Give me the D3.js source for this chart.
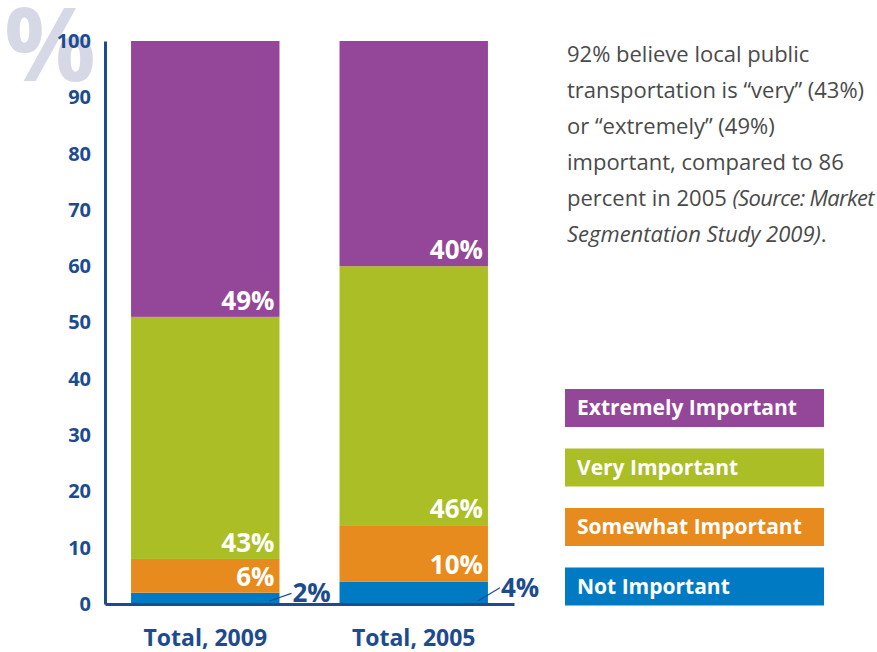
<!DOCTYPE html>
<html>
<head>
<meta charset="utf-8">
<script src="https://cdn.jsdelivr.net/npm/d3@7"></script>
<style>
  body { margin: 0; background: #fff; }
  svg { display: block; font-family: "Open Sans", sans-serif; }
</style>
</head>
<body>
<div id="chart"></div>
<script>
'use strict';

// data
var categories = ["Total, 2009", "Total, 2005"];
var seriesNames = ["Not Important", "Somewhat Important", "Very Important", "Extremely Important"];
var notImportant = [2, 4];
var somewhatImportant = [6, 10];
var veryImportant = [43, 46];
var extremelyImportant = [49, 40];
var yTicks = [0, 10, 20, 30, 40, 50, 60, 70, 80, 90, 100];
var legendOrder = ["Extremely Important", "Very Important", "Somewhat Important", "Not Important"];
var noteLines = [
  [{t: "92% believe local public"}],
  [{t: "transportation is \u201cvery\u201d (43%)"}],
  [{t: "or \u201cextremely\u201d (49%)"}],
  [{t: "important, compared to 86"}],
  [{t: "percent in 2005 "}, {t: "(Source: Market", it: true, tight: true}],
  [{t: "Segmentation Study 2009)", it: true}, {t: "."}]
];

var colors = {
  "Not Important": "#007bc3",
  "Somewhat Important": "#e88b1e",
  "Very Important": "#abbe26",
  "Extremely Important": "#944699"
};
var navy = "#1d4b8f";

var width = 877, height = 652;
var svg = d3.select("#chart").append("svg")
  .attr("width", width).attr("height", height);

// build stack table
var table = categories.map(function(c, i) {
  return {
    cat: c,
    "Not Important": notImportant[i],
    "Somewhat Important": somewhatImportant[i],
    "Very Important": veryImportant[i],
    "Extremely Important": extremelyImportant[i]
  };
});
var stacked = d3.stack().keys(seriesNames)(table);

var x = d3.scaleBand().domain(categories).range([105, 514]).paddingInner(0.288).paddingOuter(0.125);
var y = d3.scaleLinear().domain([0, 100]).range([604, 41]);

// big % mark behind the axis labels
svg.append("text")
  .attr("x", 50).attr("y", 81)
  .attr("text-anchor", "middle")
  .attr("font-size", 102).attr("font-weight", 700)
  .attr("fill", "#d6d8e6")
  .text("%");

// bars
var layer = svg.append("g").selectAll("g")
  .data(stacked)
  .join("g")
  .attr("fill", d => colors[d.key]);

layer.selectAll("rect")
  .data(d => d.map(v => ({key: d.key, v0: v[0], v1: v[1], cat: v.data.cat})))
  .join("rect")
  .attr("x", d => x(d.cat))
  .attr("width", x.bandwidth())
  .attr("y", d => y(d.v1))
  .attr("height", d => y(d.v0) - y(d.v1));

// in-bar labels (white, bottom-right of each segment)
stacked.forEach(function(s) {
  if (s.key === "Not Important") return;
  s.forEach(function(v) {
    svg.append("text")
      .attr("x", x(v.data.cat) + x.bandwidth() - 5)
      .attr("y", y(v[0]) - 7)
      .attr("text-anchor", "end")
      .attr("font-size", 26).attr("font-weight", 700)
      .attr("fill", "#fff")
      .text((v[1] - v[0]) + "%");
  });
});

// outside labels for Not Important with leader lines
stacked[0].forEach(function(v) {
  var bx = x(v.data.cat) + x.bandwidth();
  var ym = y((v[0] + v[1]) / 2);
  svg.append("line")
    .attr("x1", bx - 10).attr("y1", y(0) - 3)
    .attr("x2", bx + 12).attr("y2", ym - 5)
    .attr("stroke", navy).attr("stroke-width", 1.2);
  svg.append("text")
    .attr("x", bx + 13).attr("y", ym + 4)
    .attr("font-size", 26).attr("font-weight", 700)
    .attr("fill", navy)
    .text((v[1] - v[0]) + "%");
});

// axes
var yAxis = svg.append("g")
  .attr("transform", "translate(105,0)")
  .call(d3.axisLeft(y).tickValues(yTicks).tickSize(0).tickPadding(14));
yAxis.select(".domain").attr("stroke", navy).attr("stroke-width", 3);
yAxis.selectAll("text")
  .attr("font-size", 20).attr("font-weight", 700)
  .attr("fill", navy).attr("font-family", "Open Sans, sans-serif");

var xAxis = svg.append("g")
  .attr("transform", "translate(0,604)")
  .call(d3.axisBottom(x).tickSize(0).tickPadding(26));
xAxis.select(".domain").attr("stroke", navy).attr("stroke-width", 3);
xAxis.selectAll("text")
  .attr("font-size", 23).attr("font-weight", 700)
  .attr("fill", navy).attr("font-family", "Open Sans, sans-serif");

// note text
var note = svg.append("text")
  .attr("font-size", 22).attr("fill", "#4a4a4a");
noteLines.forEach(function(line, i) {
  var t = note.append("tspan").attr("x", 567).attr("y", 62 + i * 36);
  line.forEach(function(part, j) {
    var sp = j === 0 ? t : note.append("tspan");
    sp.text(part.t)
      .attr("font-style", part.it ? "italic" : null)
      .attr("letter-spacing", part.tight ? -0.7 : null);
  });
});

// legend
var legend = svg.append("g").selectAll("g")
  .data(legendOrder)
  .join("g")
  .attr("transform", (d, i) => "translate(565," + (389 + i * 59.5) + ")");
legend.append("rect")
  .attr("width", 259).attr("height", 38)
  .attr("fill", d => colors[d]);
legend.append("text")
  .attr("x", 12).attr("y", 26)
  .attr("font-size", 21).attr("font-weight", 700)
  .attr("fill", "#fff")
  .text(d => d);
</script>
</body>
</html>
